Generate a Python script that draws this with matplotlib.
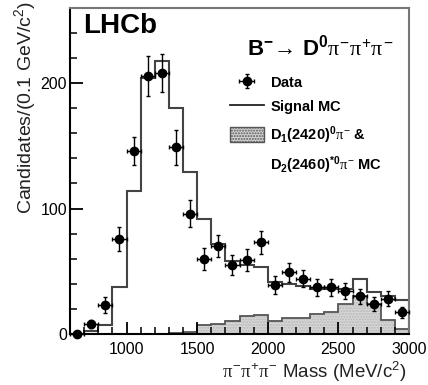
import numpy as np
import matplotlib
matplotlib.use("Agg")
import matplotlib.pyplot as plt
from matplotlib.lines import Line2D
from matplotlib.patches import Patch

plt.rcParams['font.family'] = ['Liberation Sans', 'DejaVu Sans']
plt.rcParams['mathtext.fontset'] = 'custom'
plt.rcParams['mathtext.rm'] = 'Liberation Sans'
plt.rcParams['mathtext.bf'] = 'Liberation Sans:bold'
plt.rcParams['mathtext.it'] = 'Liberation Serif'

# === datos ===
bin_edges = np.arange(600, 3001, 100)
bin_centers = [650, 750, 850, 950, 1050, 1150, 1250, 1350, 1450, 1550, 1650, 1750,
               1850, 1950, 2050, 2150, 2250, 2350, 2450, 2550, 2650, 2750, 2850, 2950]
data_counts = [0, 8, 23, 76, 146, 206, 208, 149, 96, 60, 70, 55,
               59, 73, 39, 49, 44, 37, 37, 34, 30, 24, 28, 17]
data_err = [0, 3.3, 6.4, 9.6, 11, 16, 15, 14, 11, 8.7, 9, 8,
            8.5, 9.3, 7, 7.5, 7, 6.5, 6.5, 6.5, 6, 5.5, 6, 4.5]
signal_mc = [0, 2.5, 7, 37, 114, 204, 218, 180, 129, 92, 72, 58,
             55, 53, 41, 40, 38, 36, 36, 36, 44, 33, 30, 27]
bkg_mc = [0, 0, 0, 0, 0, 0, 0, 1, 1.5, 7, 8, 10.5,
          14.5, 15, 10, 13, 13, 16, 17.5, 24, 30, 24, 11, 3.5]

fig = plt.figure(figsize=(4.28, 3.85), dpi=100)
ax = fig.add_axes([0.1636, 0.133, 0.792, 0.846])

# fondo D1/D2
ax.stairs(bkg_mc, bin_edges, fill=True, facecolor='#d6d6d6', edgecolor='#b8b8b8',
          hatch='......', linewidth=0)
ax.stairs(bkg_mc, bin_edges, color='#555555', linewidth=1.3)

# signal MC
ax.stairs(signal_mc, bin_edges, color='#444444', linewidth=1.5)

# datos
eb = ax.errorbar(bin_centers, data_counts, yerr=data_err, xerr=50, fmt='o',
                 color='black', markersize=6, elinewidth=1, capsize=1.5, zorder=5)
for art in eb.lines[0:1] + tuple(eb.lines[1]) + tuple(eb.lines[2]):
    art.set_clip_on(False)

ax.set_xlim(600, 3000)
ax.set_ylim(0, 260)
ax.set_xticks([1000, 1500, 2000, 2500, 3000])
ax.set_xticks(np.arange(700, 3000, 100), minor=True)
ax.set_yticks([0, 100, 200])
ax.set_yticks(np.arange(20, 260, 20), minor=True)
ax.tick_params(which='both', direction='in', labelsize=11.5, top=False, right=False)
ax.tick_params(which='major', length=9, width=1.3)
ax.tick_params(which='minor', length=5, width=1.1)
ax.tick_params(axis='x', pad=6)
ax.tick_params(axis='y', pad=2)
for side in ['left', 'bottom']:
    ax.spines[side].set_linewidth(1.5)
    ax.spines[side].set_color('black')
for side in ['top', 'right']:
    ax.spines[side].set_linewidth(1.5)
    ax.spines[side].set_color('#777777')

# textos
ax.text(0.038, 0.945, 'LHCb', transform=ax.transAxes, fontsize=20,
        fontweight='bold', ha='left', va='center')
ax.text(0.953, 0.88, r'$\mathbf{B^{-}}\!\rightarrow\,\mathbf{D^{0}}\pi^{-}\pi^{+}\pi^{-}$',
        transform=ax.transAxes, fontsize=16, ha='right', va='center')

fig.text(25 / 428, 0.998, r'Candidates/(0.1 GeV/$\mathrm{c^{2}}$)', rotation=90,
         fontsize=14, ha='center', va='top', color='#222222')
fig.text(407 / 428, 1 - 384 / 385, r'$\pi^{-}\pi^{+}\pi^{-}$ Mass (MeV/$\mathrm{c^{2}}$)',
         fontsize=13.5, ha='right', va='bottom', color='#222222')

# leyenda
handles = [eb,
           Line2D([], [], color='#222222', linewidth=1.3),
           Patch(facecolor='#d6d6d6', edgecolor='#555555', hatch='......'),
           Patch(visible=False)]
labels = [r'$\mathbf{Data}$',
          r'$\mathbf{Signal\ MC}$',
          r'$\mathbf{D_{1}(2420)^{0}}\pi^{-}\ \mathbf{&}$',
          r'$\mathbf{D_{2}(2460)^{*0}}\pi^{-}\ \mathbf{MC}$']
ax.legend(handles, labels, loc='upper left', bbox_to_anchor=(0.472, 0.795),
          frameon=False, fontsize=10.5, borderpad=0, borderaxespad=0,
          handlelength=2.3, handleheight=1.2, handletextpad=0.45, labelspacing=0.55)

plt.savefig('out.png', dpi=100)
